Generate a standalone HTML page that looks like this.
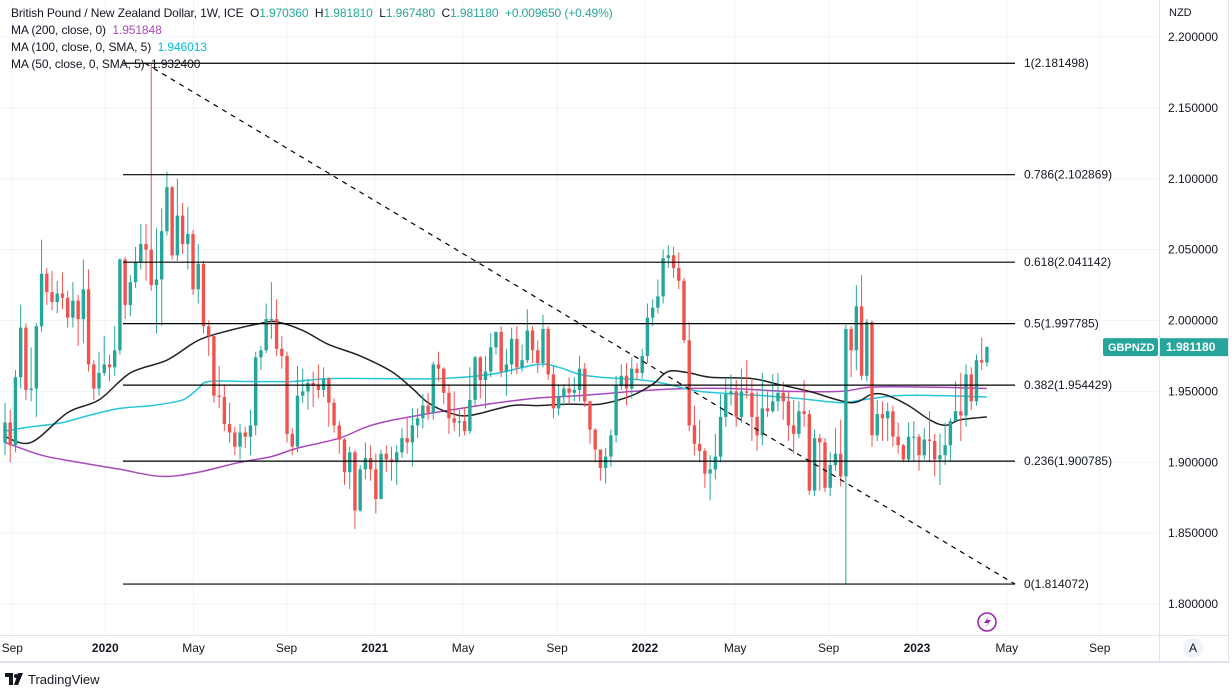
<!DOCTYPE html>
<html><head><meta charset="utf-8"><style>
body{margin:0;background:#fff;width:1232px;height:692px;overflow:hidden;font-family:"Liberation Sans",sans-serif;}
svg{position:absolute;left:0;top:0;}
</style></head><body>
<svg id="chart" width="1232" height="692" xmlns="http://www.w3.org/2000/svg"></svg>
<script>
const closes=[1.928,1.912,1.960,1.995,1.951,1.952,1.996,2.033,2.020,2.013,2.019,2.016,2.002,2.014,2.001,2.022,1.969,1.952,1.963,1.969,1.967,1.979,2.043,2.011,2.027,2.041,2.054,2.050,2.025,2.029,2.063,2.094,2.046,2.074,2.054,2.061,2.022,2.040,1.996,1.989,1.947,1.946,1.927,1.921,1.911,1.921,1.918,1.926,1.974,1.979,2.001,2.001,1.980,1.975,1.920,1.911,1.947,1.950,1.956,1.954,1.951,1.959,1.942,1.926,1.916,1.893,1.907,1.866,1.895,1.903,1.895,1.874,1.906,1.902,1.900,1.907,1.917,1.914,1.926,1.931,1.940,1.935,1.969,1.966,1.949,1.931,1.928,1.929,1.922,1.944,1.974,1.958,1.964,1.981,1.992,1.964,1.969,1.987,1.967,1.972,1.993,1.979,1.970,1.994,1.962,1.938,1.946,1.952,1.949,1.951,1.966,1.943,1.923,1.909,1.896,1.904,1.919,1.954,1.961,1.952,1.966,1.963,1.975,2.002,2.009,2.017,2.044,2.046,2.037,2.028,1.986,1.926,1.913,1.908,1.892,1.895,1.904,1.932,1.948,1.950,1.932,1.950,1.949,1.932,1.919,1.938,1.936,1.943,1.949,1.943,1.926,1.920,1.936,1.934,1.880,1.917,1.914,1.882,1.898,1.906,1.890,1.994,1.979,2.010,1.961,1.999,1.919,1.934,1.931,1.936,1.918,1.912,1.902,1.918,1.918,1.905,1.916,1.915,1.902,1.905,1.912,1.929,1.936,1.933,1.962,1.943,1.972,1.97036,1.98118];
const highs=[1.942,1.937,1.965,2.011,1.998,1.981,1.998,2.057,2.037,2.035,2.028,2.034,2.021,2.027,2.018,2.043,2.036,1.972,1.978,1.989,1.976,1.996,2.044,2.045,2.032,2.052,2.068,2.068,2.181,2.065,2.079,2.105,2.095,2.100,2.083,2.080,2.064,2.054,2.042,2.000,1.990,1.968,1.955,1.942,1.925,1.927,1.925,1.937,1.978,1.982,2.012,2.027,2.015,1.989,1.978,1.924,1.968,1.966,1.959,1.964,1.969,1.967,1.960,1.945,1.929,1.917,1.911,1.909,1.898,1.914,1.912,1.906,1.909,1.912,1.911,1.912,1.924,1.932,1.938,1.938,1.948,1.949,1.971,1.978,1.967,1.955,1.950,1.937,1.939,1.967,1.975,1.975,1.975,1.991,1.992,1.996,1.980,1.995,1.996,1.983,2.008,1.996,1.986,2.004,1.996,1.968,1.955,1.955,1.960,1.960,1.975,1.970,1.943,1.924,1.906,1.910,1.923,1.961,1.969,1.970,1.974,1.970,1.980,2.012,2.015,2.029,2.050,2.053,2.052,2.048,2.030,1.999,1.940,1.930,1.910,1.905,1.920,1.948,1.960,1.962,1.958,1.966,1.972,1.958,1.950,1.963,1.950,1.962,1.963,1.957,1.950,1.944,1.943,1.958,1.937,1.923,1.920,1.917,1.907,1.924,1.930,1.997,1.996,2.025,2.032,2.001,2.000,1.944,1.943,1.942,1.940,1.928,1.913,1.928,1.929,1.920,1.924,1.936,1.920,1.920,1.928,1.931,1.957,1.963,1.969,1.967,1.976,1.988,1.98181];
const lows=[1.905,1.900,1.907,1.952,1.944,1.943,1.932,1.992,2.011,2.007,2.005,2.008,1.995,1.995,1.982,1.984,1.964,1.944,1.947,1.961,1.957,1.961,1.976,2.001,2.003,2.023,2.036,2.028,2.021,1.991,1.996,2.060,2.043,2.042,2.047,2.036,2.018,2.012,1.991,1.975,1.942,1.938,1.922,1.914,1.905,1.902,1.910,1.905,1.919,1.965,1.977,1.987,1.975,1.966,1.914,1.905,1.907,1.942,1.937,1.939,1.945,1.946,1.925,1.921,1.906,1.884,1.881,1.853,1.865,1.888,1.887,1.864,1.874,1.893,1.887,1.884,1.903,1.906,1.897,1.917,1.924,1.930,1.930,1.957,1.941,1.920,1.922,1.918,1.919,1.920,1.940,1.945,1.938,1.960,1.976,1.960,1.947,1.962,1.962,1.964,1.970,1.970,1.963,1.967,1.958,1.931,1.933,1.940,1.941,1.943,1.943,1.939,1.913,1.900,1.887,1.885,1.897,1.914,1.951,1.940,1.945,1.958,1.959,1.970,1.996,2.005,2.012,2.037,2.030,2.022,1.984,1.922,1.905,1.900,1.882,1.873,1.888,1.900,1.925,1.940,1.925,1.928,1.945,1.915,1.908,1.912,1.932,1.935,1.936,1.930,1.915,1.906,1.917,1.925,1.877,1.876,1.880,1.879,1.876,1.894,1.883,1.814,1.960,1.965,1.958,1.957,1.911,1.915,1.915,1.915,1.911,1.906,1.900,1.900,1.900,1.894,1.902,1.900,1.890,1.884,1.898,1.901,1.929,1.915,1.925,1.937,1.940,1.965,1.96748];
const firstOpen=1.914;
const ma50Idx=[0,5,12,18,24,31,37,43,49,52,57,62,68,74,78,81,85,89,97,102,108,114,120,124,127,131,135,143,148,154,162,166,169,173,177,180,183,188];
const ma50Val=[1.918,1.914,1.935,1.944,1.963,1.972,1.986,1.993,1.998,1.999,1.993,1.983,1.975,1.964,1.952,1.942,1.935,1.933,1.940,1.940,1.941,1.941,1.947,1.955,1.964,1.963,1.960,1.959,1.955,1.950,1.942,1.948,1.947,1.940,1.930,1.926,1.930,1.932];
const ma100Idx=[0,5,11,16,22,28,34,37,39,47,55,62,72,83,93,102,106,110,114,122,127,133,145,152,160,164,171,179,188];
const ma100Val=[1.922,1.925,1.928,1.933,1.938,1.940,1.944,1.952,1.957,1.957,1.957,1.959,1.959,1.959,1.962,1.969,1.967,1.962,1.960,1.958,1.955,1.950,1.947,1.945,1.942,1.944,1.947,1.947,1.946];
const ma200Idx=[0,7,14,22,30,37,45,51,56,64,72,89,101,110,124,131,139,150,160,166,177,188];
const ma200Val=[1.914,1.905,1.900,1.895,1.890,1.893,1.900,1.904,1.910,1.917,1.928,1.939,1.945,1.947,1.951,1.952,1.952,1.950,1.950,1.953,1.953,1.952];
const fibLevels=[2.181498,2.102869,2.041142,1.997785,1.954429,1.900785,1.814072];
const fibNames=["1","0.786","0.618","0.5","0.382","0.236","0"];
const priceTicks=[1.80,1.85,1.90,1.95,2.00,2.05,2.10,2.15,2.20];
const timeLabels=["Sep","2020","May","Sep","2021","May","Sep","2022","May","Sep","2023","May","Sep"];
const timeIdx=[1.4,19.2,36.1,53.9,70.8,87.7,105.7,122.5,139.8,157.7,174.6,191.8,209.6];
const trendStart=[26.8,2.1815], trendEnd=[193.4,1.814];

const NS="http://www.w3.org/2000/svg";
const svg=document.getElementById('chart');
const X=i=>5+i*5.223;
const Y=v=>604-(v-1.8)*1417.5;
function el(tag,attrs,parent){const e=document.createElementNS(NS,tag);for(const k in attrs)e.setAttribute(k,attrs[k]);(parent||svg).appendChild(e);return e;}
function txt(s,attrs){const t=el('text',attrs);t.textContent=s;return t;}

priceTicks.forEach(p=>{const l=el('line',{x1:0,x2:1159,y1:Y(p),y2:Y(p),stroke:'#f0f3fa','stroke-width':1});

});
timeIdx.forEach(i=>{const l=el('line',{x1:X(i),x2:X(i),y1:0,y2:635,stroke:'#f0f3fa','stroke-width':1});

});

function maLine(idx,vals,color,name){
const pts=idx.map((i,k)=>[X(i),Y(vals[k])]);
let d='M'+pts[0][0].toFixed(1)+' '+pts[0][1].toFixed(1);
for(let k=1;k<pts.length;k++){const p0=pts[k-2]||pts[k-1],p1=pts[k-1],p2=pts[k],p3=pts[k+1]||p2;
const c1=[p1[0]+(p2[0]-p0[0])/6,p1[1]+(p2[1]-p0[1])/6],c2=[p2[0]-(p3[0]-p1[0])/6,p2[1]-(p3[1]-p1[1])/6];
d+='C'+c1[0].toFixed(1)+' '+c1[1].toFixed(1)+' '+c2[0].toFixed(1)+' '+c2[1].toFixed(1)+' '+p2[0].toFixed(1)+' '+p2[1].toFixed(1);}
const p=el('path',{d:d,fill:'none',stroke:color,'stroke-width':1.5,'stroke-linejoin':'round'});

}
maLine(ma200Idx,ma200Val,'#ab47bc','ma200-line');
maLine(ma100Idx,ma100Val,'#26c6da','ma100-line');
maLine(ma50Idx,ma50Val,'#222','ma50-line');

let prev=firstOpen;
closes.forEach((c,i)=>{const o=prev;prev=c;const up=c>=o;const col=up?'#26a69a':'#ef5350';const x=X(i);
const w=el('line',{x1:x,x2:x,y1:Y(highs[i]),y2:Y(lows[i]),stroke:col,'stroke-width':1});


const top=Y(Math.max(o,c)),bot=Y(Math.min(o,c));
const r=el('rect',{x:x-1.7,y:top,width:3.4,height:Math.max(1,bot-top),fill:col});

});

fibLevels.forEach((f,k)=>{const l=el('line',{x1:123,x2:1015,y1:Y(f),y2:Y(f),stroke:'#000','stroke-width':1.2});


const t=txt(fibNames[k]+'('+f.toFixed(6)+')',{x:1024,y:Y(f)+4,'font-size':12,fill:'#131722'});

});
const tl=el('line',{x1:X(trendStart[0]),y1:Y(trendStart[1]),x2:X(trendEnd[0]),y2:Y(trendEnd[1]),stroke:'#000','stroke-width':1.2,'stroke-dasharray':'5 5'});



const rs=el('rect',{x:1159,y:0,width:73,height:662,fill:'#fff'});


el('line',{x1:1159.5,x2:1159.5,y1:0,y2:662,stroke:'#e0e3eb'});
el('line',{x1:1228.5,x2:1228.5,y1:0,y2:662,stroke:'#e0e3eb'});
priceTicks.forEach(p=>{const t=txt(p.toFixed(6),{x:1168,y:Y(p)+4,'font-size':12,fill:'#131722'});

});
const nzd=txt('NZD',{x:1169,y:16,'font-size':11,fill:'#131722'});


const lc=closes[closes.length-1];
const b1=el('rect',{x:1103,y:Y(lc)-9,width:55,height:18,rx:2,fill:'#26a69a'});


const tb1=txt('GBPNZD',{x:1108,y:Y(lc)+4,'font-size':11,'font-weight':'bold',fill:'#fff'});


const b2=el('rect',{x:1160,y:Y(lc)-9,width:68,height:18,fill:'#26a69a'});


const tb2=txt(lc.toFixed(6),{x:1166,y:Y(lc)+4,'font-size':12,'font-weight':'bold',fill:'#fff'});



el('line',{x1:0,x2:1229,y1:635.5,y2:635.5,stroke:'#e0e3eb'});
el('rect',{x:0,y:661,width:1229,height:2,fill:'#e0e3eb'});
timeLabels.forEach((s,k)=>{const bold=/^\d/.test(s);const t=txt(s,{x:X(timeIdx[k]),y:652,'font-size':12,'text-anchor':'middle',fill:'#131722','font-weight':bold?'bold':'normal'});

});
const ac=el('circle',{cx:1193,cy:648,r:10,fill:'#f0f3fa'});


txt('A',{x:1193,y:652,'font-size':12,'text-anchor':'middle',fill:'#131722'});
const li=el('circle',{cx:987,cy:622,r:9,fill:'none',stroke:'#9c27b0','stroke-width':1.6});


el('path',{d:'M989 616 L984 623 L988 623 L985 628 L991 620 L987 620 Z',fill:'#9c27b0'});
</script>
<div style="position:absolute;left:11px;top:5px;font-size:12px;line-height:17px;color:#131722;white-space:nowrap;letter-spacing:-0.1px">
<div>British Pound / New Zealand Dollar, 1W, ICE&nbsp; O<span style="color:#26a69a">1.970360</span>&nbsp; H<span style="color:#26a69a">1.981810</span>&nbsp; L<span style="color:#26a69a">1.967480</span>&nbsp; C<span style="color:#26a69a">1.981180</span>&nbsp; <span style="color:#26a69a">+0.009650 (+0.49%)</span></div>
<div>MA (200, close, 0)&nbsp; <span style="color:#ab47bc">1.951848</span></div>
<div>MA (100, close, 0, SMA, 5)&nbsp; <span style="color:#00bcd4">1.946013</span></div>
<div>MA (50, close, 0, SMA, 5)&nbsp; <span>1.932400</span></div>
</div>
<div style="position:absolute;left:5px;top:672px;font-size:13px;color:#131722;display:flex;align-items:center">
<svg width="20" height="14" style="position:static"><path d="M0 0h8v12H4V4H0z M9 12 L13 0 H18 L13 12z" fill="#131722"/><circle cx="11" cy="3" r="2" fill="#131722"/></svg>
<span style="margin-left:3px">TradingView</span></div>
</body></html>
